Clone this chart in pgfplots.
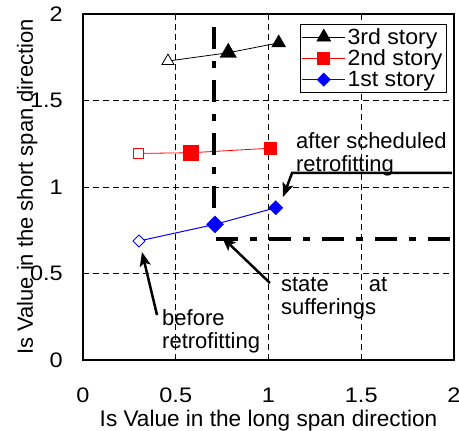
\documentclass[border=0pt]{standalone}
\usepackage{fontspec}
\setmainfont{Liberation Sans}
\usepackage{graphicx}
\usepackage{pgfplots}
\pgfplotsset{compat=1.18}
\usetikzlibrary{arrows.meta}
\newcommand{\tkl}[1]{\scalebox{1.12}[1]{#1}}
\newcommand{\lgt}[1]{\scalebox{1.05}[1]{#1}}
\begin{document}
\begin{tikzpicture}[font=\fontsize{22}{23}\selectfont]
\path[use as bounding box] (-83pt,-71pt) rectangle (376pt,360pt);
\begin{axis}[
  at={(0pt,0pt)}, anchor=south west,
  scale only axis, width=371pt, height=346pt,
  xmin=0, xmax=2, ymin=0, ymax=2,
  xtick={0,0.5,1,1.5,2}, ytick={0,0.5,1,1.5,2},
  xticklabels={\tkl{0},\tkl{0.5},\tkl{1},\tkl{1.5},\tkl{2}},
  yticklabels={\tkl{0},\tkl{0.5},\tkl{1},\tkl{1.5},\tkl{2}},
  /pgf/number format/assume math mode=true,
  grid=major,
  major grid style={black, dash pattern=on 6pt off 4pt, line width=0.6pt},
  major tick length=0pt, tick style={draw=none},
  axis line style={line width=2.5pt},
  tick label style={font=\fontsize{21}{23}\selectfont},
  xticklabel style={inner sep=0pt, anchor=north, yshift=-28pt},
  yticklabel style={inner sep=0pt, anchor=east, xshift=-20pt},
  xlabel={Is Value in the long span direction},
  ylabel={Is Value in the short span direction},
  xlabel style={at={(axis description cs:0.5,-0.1445)}, anchor=north, inner sep=0pt, font=\fontsize{22.6}{23}\selectfont},
  ylabel style={at={(axis description cs:-0.122,0.5)}, anchor=south, inner sep=0pt, font=\fontsize{22}{23}\selectfont},
  legend style={at={(rel axis cs:0.981,0.971)}, anchor=north east, draw=black, line width=0.8pt,
    fill=white, inner sep=2pt, font=\fontsize{22}{23}\selectfont, row sep=0pt},
  legend cell align=left,
  legend image code/.code={\draw[mark repeat=2,mark phase=2] plot coordinates {(0cm,0cm) (0.75cm,0cm) (1.5cm,0cm)};},
]
% legend images
\addlegendimage{black, line width=0.6pt, mark=triangle*, mark size=8pt, mark options={solid}}
\addlegendentry{\lgt{3rd story}}
\addlegendimage{red, line width=0.6pt, mark=square*, mark size=6pt, mark options={solid}}
\addlegendentry{\lgt{2nd story}}
\addlegendimage{blue, line width=0.8pt, mark=square*, mark size=4.6pt, mark options={solid, rotate=45}}
\addlegendentry{\lgt{1st story}}

% 3rd story
\addplot[black, line width=0.8pt, forget plot] coordinates {(0.458,1.728) (0.783,1.776) (1.055,1.833)};
\addplot[only marks, black, mark=triangle*, mark size=9.5pt, forget plot] coordinates {(0.783,1.776)};
\addplot[only marks, black, mark=triangle*, mark size=8pt, forget plot] coordinates {(1.055,1.833)};
\addplot[only marks, black, mark=triangle*, mark size=7pt, mark options={fill=white, line width=0.8pt}, forget plot] coordinates {(0.458,1.728)};

% 2nd story
\addplot[red, line width=0.8pt, forget plot] coordinates {(0.298,1.194) (0.581,1.198) (1.008,1.224)};
\addplot[only marks, red, mark=square*, mark size=7.5pt, forget plot] coordinates {(0.581,1.198)};
\addplot[only marks, red, mark=square*, mark size=6pt, forget plot] coordinates {(1.008,1.224)};
\addplot[only marks, red, mark=square*, mark size=5.3pt, mark options={fill=white, line width=0.9pt}, forget plot] coordinates {(0.298,1.194)};

% 1st story
\addplot[blue, line width=1pt, forget plot] coordinates {(0.302,0.688) (0.712,0.784) (1.039,0.880)};
\addplot[only marks, blue, mark=square*, mark size=6pt, mark options={rotate=45}, forget plot] coordinates {(0.712,0.784)};
\addplot[only marks, blue, mark=square*, mark size=5pt, mark options={rotate=45}, forget plot] coordinates {(1.039,0.880)};
\addplot[only marks, blue, mark=square*, mark size=4.2pt, mark options={rotate=45, fill=white, line width=0.9pt}, forget plot] coordinates {(0.302,0.688)};

% dash-dot threshold lines
\draw[black, line width=4.5pt, dash pattern=on 22pt off 12pt on 7pt off 12pt] (axis cs:0.706,1.925) -- (axis cs:0.706,0.70);
\draw[black, line width=4.5pt, dash pattern=on 22pt off 12pt on 7pt off 12pt] (axis cs:0.715,0.70) -- (axis cs:2,0.70);

% annotations
\draw[black, line width=2.5pt, -{Stealth[length=14pt,width=11pt,inset=3pt]}] (axis cs:1.99,1.081) -- (axis cs:1.127,1.081) -- (axis cs:1.078,0.942);
\draw[black, line width=2.5pt, -{Stealth[length=14pt,width=11pt,inset=3pt]}] (axis cs:0.399,0.26) -- (axis cs:0.318,0.624);
\draw[black, line width=2.5pt, -{Stealth[length=14pt,width=11pt,inset=3pt]}] (axis cs:1.008,0.445) -- (axis cs:0.749,0.711);

\node[anchor=north west, inner sep=0pt, align=left] at (axis cs:1.148,1.318) {after scheduled\\retrofitting};
\node[anchor=north west, inner sep=0pt, align=left] at (axis cs:0.426,0.295) {before\\retrofitting};
\node[anchor=north west, inner sep=0pt, align=left] at (axis cs:1.067,0.48) {state\hspace{40pt}at\\sufferings};
\end{axis}
% thick axis box
\draw[black, line width=2.5pt] (0pt,0pt) rectangle (371pt,346pt);
\end{tikzpicture}
\end{document}
